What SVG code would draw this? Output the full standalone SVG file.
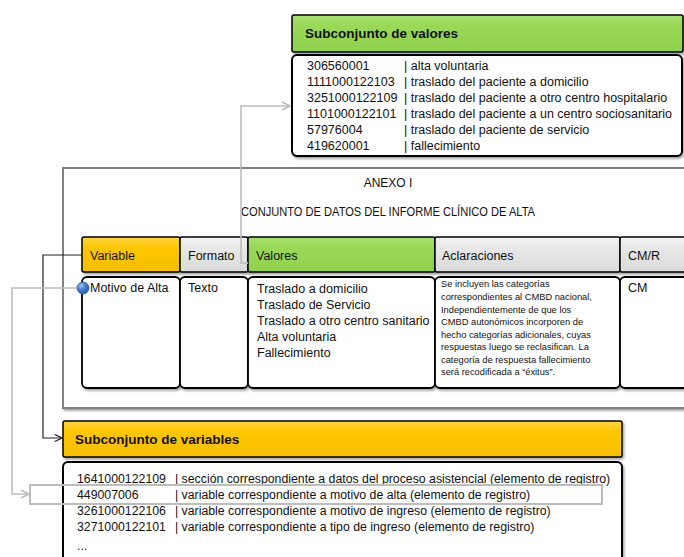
<svg xmlns="http://www.w3.org/2000/svg" width="684" height="557" viewBox="0 0 684 557">
<defs>
  <filter id="sh" x="-5%" y="-5%" width="115%" height="130%">
    <feDropShadow dx="1.5" dy="2" stdDeviation="1.2" flood-color="#000" flood-opacity="0.35"/>
  </filter>
  <linearGradient id="gY" x1="0" y1="0" x2="0" y2="1">
    <stop offset="0" stop-color="#FFD54A"/><stop offset="0.3" stop-color="#FFC700"/><stop offset="1" stop-color="#F5BE00"/>
  </linearGradient>
  <linearGradient id="gG" x1="0" y1="0" x2="0" y2="1">
    <stop offset="0" stop-color="#A8E070"/><stop offset="0.3" stop-color="#99D957"/><stop offset="1" stop-color="#90D04E"/>
  </linearGradient>
  <linearGradient id="gW" x1="0" y1="0" x2="0" y2="1">
    <stop offset="0" stop-color="#F4F4F4"/><stop offset="0.3" stop-color="#E8E8E8"/><stop offset="1" stop-color="#DADADA"/>
  </linearGradient>
  <marker id="arB" viewBox="0 0 10 10" refX="9" refY="5" markerWidth="9" markerHeight="9" orient="auto" markerUnits="userSpaceOnUse">
    <path d="M1,1 L9,5 L1,9" fill="none" stroke="#222" stroke-width="1.3"/>
  </marker>
  <marker id="arG" viewBox="0 0 10 10" refX="9" refY="5" markerWidth="10" markerHeight="10" orient="auto" markerUnits="userSpaceOnUse">
    <path d="M1,1 L9,5 L1,9" fill="none" stroke="#BDBDBD" stroke-width="1.6"/>
  </marker>
  <radialGradient id="gDot" cx="0.35" cy="0.3" r="0.7">
    <stop offset="0" stop-color="#9CC3F0"/><stop offset="0.5" stop-color="#4A82D0"/><stop offset="1" stop-color="#2A5DA8"/>
  </radialGradient>
</defs>
<style>
  text { font-family: "Liberation Sans", Arial, sans-serif; fill: #111; }
  .hdr { stroke: #000; stroke-width: 1.5; }
  .cell { fill: #fff; stroke: #000; stroke-width: 1.8; }
  .t12 { font-size: 12.5px; }
  .t11 { font-size: 12px; }
  .tv { font-size: 12.3px; }
  .small { font-size: 9.3px; }
  .title { font-size: 13.5px; font-weight: bold; }
  .list { fill: #fff; stroke: #000; stroke-width: 2; }
  .cB { fill: none; stroke: #222; stroke-width: 1.2; }
  .cG { fill: none; stroke: #BDBDBD; stroke-width: 1.6; }
</style>
<rect width="684" height="557" fill="#fff"/>

<!-- Anexo container -->
<g id="anexo">
  <rect x="63" y="168" width="640" height="240" fill="#fff" stroke="#808080" stroke-width="2" filter="url(#sh)"/>
  <text x="388" y="187" text-anchor="middle" class="t11">ANEXO I</text>
  <text x="241" y="216" class="t11" textLength="294" lengthAdjust="spacingAndGlyphs">CONJUNTO DE DATOS DEL INFORME CLÍNICO DE ALTA</text>
</g>

<!-- Subconjunto de valores -->
<g id="valores-subset">
  <rect x="292" y="15" width="391" height="37" rx="2" class="hdr" fill="url(#gG)" filter="url(#sh)"/>
  <text x="305" y="38" class="title">Subconjunto de valores</text>
  <rect x="292" y="55" width="390" height="101" rx="5" class="list" filter="url(#sh)"/>
  <g class="t12">
    <text x="307" y="69.5">306560001</text><text x="404" y="69.5">| alta voluntaria</text>
    <text x="307" y="85.5">1111000122103</text><text x="404" y="85.5">| traslado del paciente a domicilio</text>
    <text x="307" y="101.5">3251000122109</text><text x="404" y="101.5">| traslado del paciente a otro centro hospitalario</text>
    <text x="307" y="117.5">1101000122101</text><text x="404" y="117.5">| traslado del paciente a un centro sociosanitario</text>
    <text x="307" y="133.5">57976004</text><text x="404" y="133.5">| traslado del paciente de servicio</text>
    <text x="307" y="149.5">419620001</text><text x="404" y="149.5">| fallecimiento</text>
  </g>
</g>

<!-- Header row -->
<g id="h-variable"><rect x="82" y="237" width="98" height="35" rx="2" class="hdr" fill="url(#gY)" filter="url(#sh)"/><text x="90" y="259.5" class="t12">Variable</text></g>
<g id="h-formato"><rect x="180" y="237" width="68" height="35" rx="2" class="hdr" fill="url(#gW)" filter="url(#sh)"/><text x="188" y="259.5" class="t12">Formato</text></g>
<g id="h-valores"><rect x="248" y="237" width="187" height="35" rx="2" class="hdr" fill="url(#gG)" filter="url(#sh)"/><text x="256" y="259.5" class="t12">Valores</text></g>
<g id="h-aclaraciones"><rect x="435" y="237" width="185" height="35" rx="2" class="hdr" fill="url(#gW)" filter="url(#sh)"/><text x="442" y="259.5" class="t12">Aclaraciones</text></g>
<g id="h-cmr"><rect x="620" y="237" width="80" height="35" rx="2" class="hdr" fill="url(#gW)" filter="url(#sh)"/><text x="628" y="259.5" class="t12">CM/R</text></g>

<!-- Data row -->
<g id="d-variable"><rect x="82" y="277" width="98" height="111" rx="5" class="cell" filter="url(#sh)"/><text x="90" y="292" class="t12">Motivo de Alta</text></g>
<g id="d-formato"><rect x="180" y="277" width="68" height="111" rx="5" class="cell" filter="url(#sh)"/><text x="188" y="292" class="t12">Texto</text></g>
<g id="d-valores"><rect x="248" y="277" width="187" height="111" rx="5" class="cell" filter="url(#sh)"/>
  <g class="t12">
    <text x="257" y="292.5">Traslado a domicilio</text>
    <text x="257" y="308.5">Traslado de Servicio</text>
    <text x="257" y="324.5">Traslado a otro centro sanitario</text>
    <text x="257" y="340.5">Alta voluntaria</text>
    <text x="257" y="356.5">Fallecimiento</text>
  </g>
</g>
<g id="d-aclaraciones"><rect x="435" y="277" width="185" height="111" rx="5" class="cell" filter="url(#sh)"/>
  <g class="small">
    <text x="441" y="287">Se incluyen las categorías</text>
    <text x="441" y="300">correspondientes al CMBD nacional,</text>
    <text x="441" y="312.5">Independientemente de que los</text>
    <text x="441" y="325">CMBD autonómicos incorporen de</text>
    <text x="441" y="337.5">hecho categorías adicionales, cuyas</text>
    <text x="441" y="350">respuestas luego se reclasifican. La</text>
    <text x="441" y="362.5">categoría de respuesta fallecimiento</text>
    <text x="441" y="375">será recodificada a “éxitus”.</text>
  </g>
</g>
<g id="d-cmr"><rect x="620" y="277" width="80" height="111" rx="5" class="cell" filter="url(#sh)"/><text x="628" y="292" class="t12">CM</text></g>

<!-- Subconjunto de variables -->
<g id="variables-subset">
  <rect x="63" y="421" width="559" height="36" rx="2" class="hdr" fill="url(#gY)" filter="url(#sh)"/>
  <text x="75" y="444" class="title">Subconjunto de variables</text>
  <rect x="63" y="462" width="559" height="110" rx="5" class="list" filter="url(#sh)"/>
  <g class="tv">
    <text x="77" y="483">1641000122109</text><text x="175" y="483">| sección correspondiente a datos del proceso asistencial (elemento de registro)</text>
    <text x="77" y="499">449007006</text><text x="175" y="499">| variable correspondiente a motivo de alta (elemento de registro)</text>
    <text x="77" y="515">3261000122106</text><text x="175" y="515">| variable correspondiente a motivo de ingreso (elemento de registro)</text>
    <text x="77" y="531">3271000122101</text><text x="175" y="531">| variable correspondiente a tipo de ingreso (elemento de registro)</text>
    <text x="77" y="550">...</text>
  </g>
  <rect id="highlight" x="30" y="485" width="572" height="19" fill="none" stroke="#BDBDBD" stroke-width="2"/>
</g>

<!-- Connectors -->
<g id="connectors">
  <path class="cB" d="M82,255 H43 V438 H62" marker-end="url(#arB)"/>
  <path class="cG" d="M79,288 H12 V494 H29" marker-end="url(#arG)"/>
  <path class="cG" d="M248,263 H241 V106 H290" marker-end="url(#arG)"/>
</g>
<g id="dot"><circle cx="83" cy="288" r="6" fill="url(#gDot)" stroke="#2A5DA8" stroke-width="0.8"/></g>
</svg>
